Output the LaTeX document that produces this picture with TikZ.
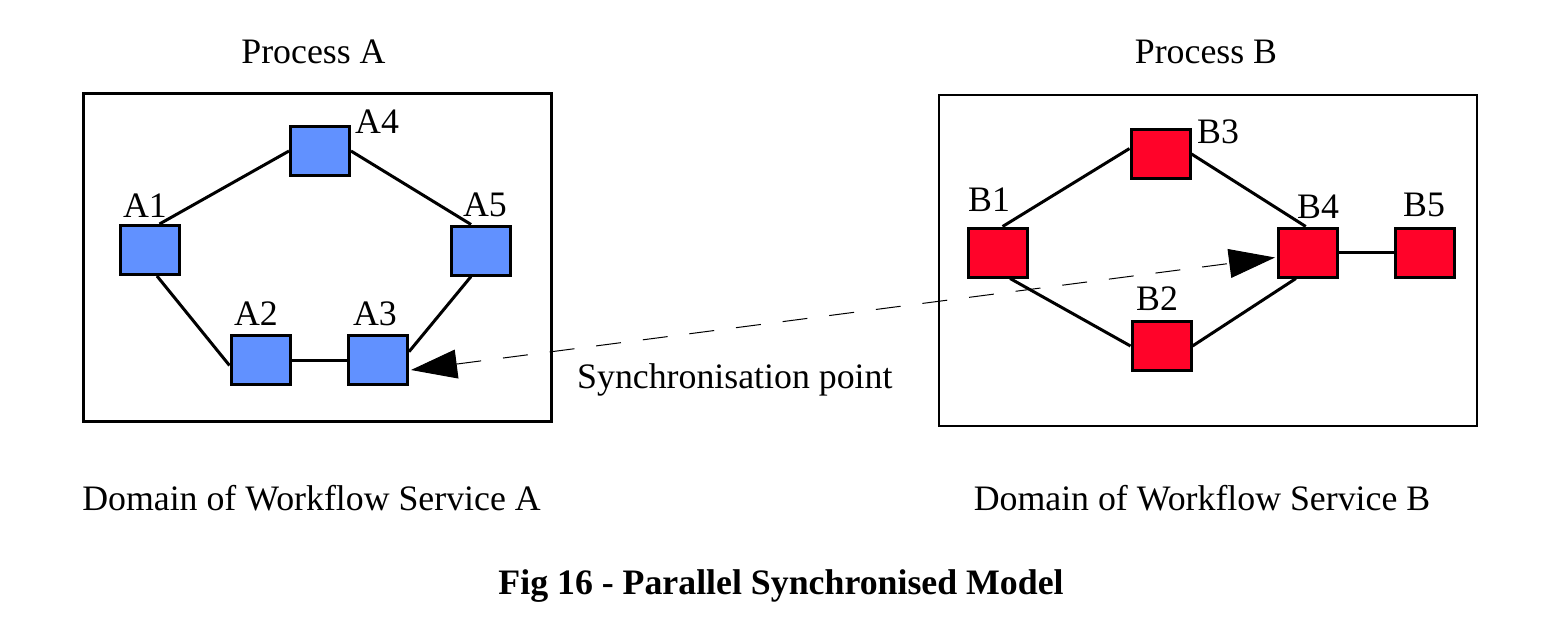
\documentclass[tikz,border=0pt]{standalone}
\usepackage{fontspec}
\setmainfont{Liberation Serif}
\usetikzlibrary{arrows.meta}
\definecolor{bleuA}{RGB}{97,145,255}
\definecolor{rougeB}{RGB}{255,3,41}
\begin{document}
\begin{tikzpicture}[x=1pt, y=-1pt]
\tikzset{noeud/.style={draw, line width=3pt, rectangle, inner sep=0pt, minimum width=59pt, minimum height=49pt},
  noeudA/.style={noeud, fill=bleuA},
  noeudB/.style={noeud, fill=rougeB},
  etiq/.style={font=\fontsize{35.8}{43}\selectfont, inner sep=0pt, anchor=base},
  lien/.style={line width=3pt},
  cadre/.style={line width=2.5pt},
  synchro/.style={line width=1pt, dash pattern=on 25pt off 22pt, {Triangle[length=46pt, width=29pt]}-{Triangle[length=46pt, width=29pt]}}}
\useasboundingbox (0,0) rectangle (1560,622);
\draw[cadre] (83.5,93.5) rectangle (551.5,421.5);
\draw[cadre] (939,95) rectangle (1477,426);
\node[etiq] (PA) at (313.5,63) {Process A};
\node[etiq] (PB) at (1206,63) {Process B};
\node[noeudA] (A1) at (150,250) {};
\node[noeudA] (A2) at (260.5,360) {};
\node[noeudA] (A3) at (378,360) {};
\node[noeudA] (A4) at (320,151) {};
\node[noeudA] (A5) at (480.5,250.5) {};
\node[etiq] (lA1) at (145,217) {A1};
\node[etiq] (lA2) at (256,325) {A2};
\node[etiq] (lA3) at (375,325) {A3};
\node[etiq, anchor=base west] (lA4) at (355,133) {A4};
\node[etiq] (lA5) at (485,216) {A5};
\draw[lien] (A1.70) -- (A4.west);
\draw[lien] (A4.east) -- (A5.110);
\draw[lien] (A1.-75) -- (A2.190);
\draw[lien] (A2.east) -- (A3.west);
\draw[lien] (A5.-110) -- (A3.15);
\node[noeudB] (B1) at (998,252.5) {};
\node[noeudB] (B2) at (1161.5,346) {};
\node[noeudB] (B3) at (1160.5,154) {};
\node[noeudB] (B4) at (1308,252.5) {};
\node[noeudB] (B5) at (1425,252.5) {};
\node[etiq] (lB1) at (989,211) {B1};
\node[etiq] (lB2) at (1157,310) {B2};
\node[etiq, anchor=base west] (lB3) at (1197,143) {B3};
\node[etiq] (lB4) at (1318,218) {B4};
\node[etiq] (lB5) at (1424,216) {B5};
\draw[lien] (B1.80) -- (B3.170);
\draw[lien] (B3.east) -- (B4.95);
\draw[lien] (B1.-65) -- (B2.west);
\draw[lien] (B2.east) -- (B4.-115);
\draw[lien] (B4.east) -- (B5.west);
\coordinate (sA) at ([xshift=2pt, yshift=-10pt]A3.east);
\coordinate (sB) at ([xshift=-2pt, yshift=-5pt]B4.west);
\draw[synchro] (sA) -- (sB);
\node[etiq, anchor=base west] (sync) at (577,388) {Synchronisation point};
\node[etiq] (DA) at (311.5,510) {Domain of Workflow Service A};
\node[etiq] (DB) at (1202,510) {Domain of Workflow Service B};
\node[etiq, font=\fontsize{35.8}{43}\selectfont\bfseries] (titre) at (781,594) {Fig 16 - Parallel Synchronised Model};
\end{tikzpicture}
\end{document}
